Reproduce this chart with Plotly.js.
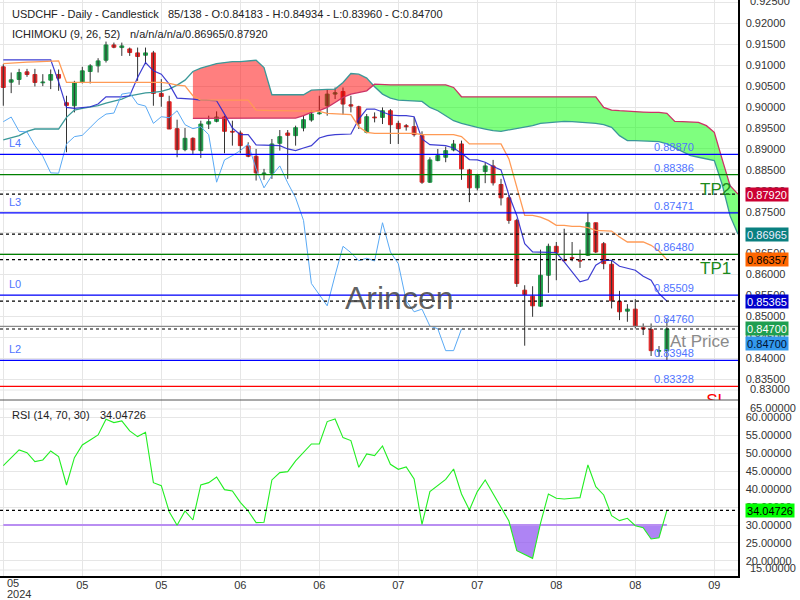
<!DOCTYPE html>
<html><head><meta charset="utf-8">
<script src="https://cdn.plot.ly/plotly-3.0.1.min.js"></script>
<style>html,body{margin:0;padding:0;background:#fff}#chart{width:800px;height:600px}</style>
</head><body><div id="chart"></div>
<script>
const openP = [0.90960,0.90594,0.90658,0.90840,0.90777,0.90579,0.90642,0.90777,0.90102,0.90031,
0.90587,0.90848,0.90983,0.91118,0.91483,0.91420,0.91388,0.91293,0.91237,0.91293,
0.90325,0.90126,0.89483,0.88983,0.89253,0.88959,0.89594,0.89658,0.89761,0.89420,
0.89380,0.89070,0.88824,0.88404,0.88420,0.89134,0.89380,0.89317,0.89499,0.89690,
0.89840,0.90031,0.90309,0.90372,0.90055,0.90007,0.89396,0.89761,0.89753,0.89912,
0.89610,0.89555,0.89531,0.89317,0.88205,0.88721,0.88801,0.88975,0.89118,0.88499,
0.88070,0.88459,0.88594,0.88150,0.87832,0.87293,0.85626,0.85483,0.85245,0.85983,
0.86674,0.86348,0.86404,0.86340,0.86459,0.87237,0.86737,0.86245,0.85356,0.85126,
0.85174,0.84729,0.84689,0.84170,0.84183];
const highP = [0.91023,0.90825,0.90912,0.90912,0.90912,0.90785,0.90896,0.90896,0.90269,0.90626,
0.90960,0.91023,0.91166,0.91563,0.91540,0.91539,0.91420,0.91420,0.91420,0.91341,
0.90666,0.90269,0.89698,0.89499,0.89277,0.89674,0.89793,0.89896,0.89793,0.89674,
0.89436,0.89158,0.88999,0.88523,0.89237,0.89451,0.89451,0.89555,0.89793,0.89912,
0.90269,0.90428,0.90467,0.90467,0.90269,0.90031,0.89833,0.89872,0.89991,0.89952,
0.89674,0.89594,0.89753,0.89420,0.88801,0.88999,0.89055,0.89213,0.89198,0.88523,
0.88404,0.88674,0.88737,0.88285,0.87900,0.87332,0.85745,0.85721,0.86594,0.86737,
0.86777,0.87094,0.86777,0.86594,0.87475,0.87237,0.86777,0.86340,0.85610,0.85293,
0.85412,0.84832,0.84832,0.84293,0.84934];
const lowP = [0.90031,0.90332,0.90531,0.90721,0.90491,0.90499,0.90428,0.90388,0.88920,0.89872,
0.90563,0.90563,0.90825,0.91063,0.91404,0.91221,0.91221,0.90626,0.91023,0.90031,
0.90007,0.89475,0.88801,0.88944,0.88880,0.88785,0.89475,0.89634,0.88896,0.89078,
0.88896,0.88801,0.88245,0.88261,0.88285,0.88959,0.88285,0.89078,0.89420,0.89650,
0.89817,0.89793,0.90190,0.89817,0.89872,0.89475,0.89372,0.89634,0.89594,0.89118,
0.89118,0.89436,0.89293,0.88166,0.88190,0.88705,0.88682,0.88943,0.88261,0.87729,
0.88007,0.88182,0.88126,0.87650,0.87213,0.85705,0.84301,0.84991,0.85229,0.85563,
0.85864,0.86324,0.86317,0.86158,0.86444,0.86515,0.86126,0.85190,0.84912,0.84872,
0.84713,0.84555,0.84055,0.84039,0.83960];
const closeP = [0.90467,0.90650,0.90825,0.90777,0.90587,0.90594,0.90777,0.90690,0.90039,0.90587,
0.90864,0.90983,0.91102,0.91483,0.91428,0.91460,0.91301,0.91206,0.91293,0.90325,
0.90253,0.89475,0.88983,0.89253,0.88975,0.89594,0.89650,0.89761,0.89420,0.89404,
0.89078,0.88824,0.88428,0.88420,0.89118,0.89293,0.89324,0.89507,0.89698,0.89832,
0.89856,0.90309,0.90340,0.90071,0.90023,0.89610,0.89769,0.89745,0.89912,0.89578,
0.89483,0.89531,0.89340,0.88205,0.88737,0.88840,0.88959,0.89118,0.88523,0.88070,
0.88364,0.88594,0.88190,0.87832,0.87293,0.85785,0.85523,0.85253,0.85983,0.86674,
0.86523,0.86332,0.86388,0.86324,0.87237,0.86539,0.86261,0.85372,0.85110,0.85174,
0.84769,0.84705,0.84182,0.84183,0.84700];
const tenkan = [0.91126,0.91126,0.91126,0.91126,0.91126,0.91126,0.91126,0.90600,0.89991,0.89967,
0.89991,0.90007,0.90071,0.90245,0.90245,0.90245,0.90269,0.90706,0.91063,0.90864,
0.90785,0.90547,0.90213,0.90205,0.90190,0.90166,0.90166,0.90150,0.89832,0.89499,
0.89340,0.89340,0.89094,0.89094,0.89094,0.89078,0.88999,0.88959,0.89023,0.89078,
0.89261,0.89317,0.89340,0.89356,0.89356,0.89713,0.89952,0.89952,0.89872,0.89809,
0.89793,0.89793,0.89769,0.89237,0.89102,0.89094,0.89078,0.89023,0.88896,0.88745,
0.88737,0.88682,0.88579,0.88499,0.87900,0.87412,0.86737,0.86539,0.86539,0.86539,
0.86523,0.86301,0.86063,0.85824,0.85880,0.86221,0.86340,0.86340,0.86198,0.86142,
0.86102,0.85959,0.85864,0.85547,0.85365];
const kijun = [0.91039,0.91055,0.91063,0.91071,0.91079,0.91086,0.91102,0.91102,0.90587,0.90587,
0.90587,0.90587,0.90587,0.90587,0.90587,0.90587,0.90587,0.90587,0.90587,0.90587,
0.90587,0.90563,0.90523,0.90507,0.90269,0.90166,0.90166,0.90166,0.90166,0.90166,
0.90166,0.90166,0.89928,0.89912,0.89912,0.89912,0.89912,0.89912,0.89912,0.89912,
0.89896,0.89848,0.89832,0.89817,0.89817,0.89531,0.89396,0.89372,0.89372,0.89372,
0.89372,0.89372,0.89372,0.89340,0.89340,0.89340,0.89340,0.89340,0.89293,0.89118,
0.89118,0.89118,0.89118,0.89118,0.88761,0.88086,0.87412,0.87412,0.87372,0.87293,
0.87174,0.87174,0.87150,0.87150,0.87118,0.87055,0.87039,0.87039,0.86896,0.86777,
0.86777,0.86777,0.86698,0.86563,0.86357];
const senkouA = [0.89213,0.89269,0.89317,0.89420,0.89475,0.89475,0.89475,0.89475,0.89753,0.89928,
0.89967,0.89991,0.90031,0.90094,0.90150,0.90190,0.90269,0.90309,0.90340,0.90348,
0.90372,0.90428,0.90523,0.90642,0.90848,0.90928,0.90983,0.91039,0.91063,0.91086,
0.91086,0.91102,0.91118,0.90944,0.90293,0.90293,0.90293,0.90293,0.90293,0.90404,
0.90420,0.90420,0.90428,0.90587,0.90801,0.90785,0.90690,0.90483,0.90309,0.90214,
0.90166,0.90158,0.90150,0.90134,0.89991,0.89912,0.89793,0.89674,0.89610,0.89555,
0.89515,0.89475,0.89436,0.89420,0.89451,0.89499,0.89515,0.89555,0.89610,0.89626,
0.89642,0.89658,0.89650,0.89642,0.89634,0.89610,0.89579,0.89515,0.89317,0.89198,
0.89198,0.89190,0.89182,0.89174,0.89118,0.89023,0.88920,0.88840,0.88801,0.88761,
0.88721,0.88150,0.87400,0.86965];
const senkouB = [null,null,null,null,null,null,null,null,null,null,
null,null,null,null,null,null,null,null,null,null,
null,null,null,null,0.89729,0.89729,0.89729,0.89729,0.89729,0.89729,
0.89729,0.89729,0.89729,0.89729,0.89729,0.89729,0.89729,0.89737,0.89793,0.89872,
0.89912,0.89991,0.90110,0.90229,0.90309,0.90348,0.90388,0.90547,0.90531,0.90531,
0.90531,0.90531,0.90531,0.90531,0.90531,0.90531,0.90531,0.90468,0.90245,0.90245,
0.90245,0.90245,0.90245,0.90245,0.90245,0.90245,0.90245,0.90245,0.90245,0.90245,
0.90245,0.90245,0.90245,0.90245,0.90245,0.90245,0.89991,0.89928,0.89912,0.89896,
0.89888,0.89880,0.89872,0.89872,0.89848,0.89658,0.89650,0.89642,0.89634,0.89555,
0.89396,0.88750,0.88120,0.87920];
const rsi = [46.53,48.76,50.89,50.15,47.65,48.11,50.62,49.04,41.14,48.76,
52.29,53.68,55.07,59.44,58.51,58.98,56.19,54.61,55.82,41.79,
40.96,33.71,29.95,33.90,31.39,41.14,41.79,43.37,39.84,39.47,
36.31,33.90,30.65,30.74,42.54,44.58,44.86,47.83,50.25,52.57,
52.57,58.79,59.53,54.33,53.50,46.06,49.78,49.32,52.01,46.90,
45.51,46.16,42.81,30.18,39.29,41.14,42.72,45.60,38.64,34.18,
39.29,42.54,38.82,34.83,31.11,22.85,21.82,20.71,30.46,38.64,
37.43,37.24,37.43,37.61,46.72,40.68,38.36,32.60,31.21,31.86,
29.81,29.25,26.10,26.47,34.04726];
const levelValues = [0.88870,0.88386,0.87471,0.86480,0.85509,0.84760,0.83948,0.83328];
const levelNames = ['L4','','L3','','L0','','L2',''];
const rsiOversold = 30;
const dateTickBars = [0,10,20,30,40,50,60,70,80,90];
const dateTickText = ['05','05','05','06','06','07','07','08','08','09'];
const yearText = '2024';

const PW = 738, PH = 576;
const px = x => x / PW, py = y => 1 - y / PH;
const F = 'Liberation Sans, Arial, sans-serif';
const idx = closeP.map((_, i) => i);
const cloudIdx = senkouA.map((_, i) => i);

function crossAug(xs, a, b) {
  const X = [], A = [], B = [];
  for (let i = 0; i < xs.length; i++) {
    X.push(xs[i]); A.push(a[i]); B.push(b[i]);
    if (i < xs.length - 1) {
      const d0 = a[i] - b[i], d1 = a[i + 1] - b[i + 1];
      if (d0 * d1 < 0) {
        const t = d0 / (d0 - d1);
        const v = a[i] + t * (a[i + 1] - a[i]);
        X.push(xs[i] + t * (xs[i + 1] - xs[i])); A.push(v); B.push(v);
      }
    }
  }
  return {X, A, B};
}

const traces = [];
const wx = [], wy = [];
idx.forEach(i => { wx.push(i, i, null); wy.push(lowP[i], highP[i], null); });
traces.push({type:'scatter', mode:'lines', x:wx, y:wy, line:{color:'#333', width:1}, hoverinfo:'skip', xaxis:'x', yaxis:'y'});
traces.push({type:'candlestick', x:idx, open:openP, close:closeP,
  high: idx.map(i => Math.max(openP[i], closeP[i])), low: idx.map(i => Math.min(openP[i], closeP[i])),
  increasing:{fillcolor:'#1f9e4b', line:{color:'#1f9e4b', width:1}},
  decreasing:{fillcolor:'#e02626', line:{color:'#e02626', width:1}},
  whiskerwidth:0, hoverinfo:'skip', xaxis:'x', yaxis:'y'});
const cStart = senkouB.findIndex(v => v !== null);
const cx = cloudIdx.slice(cStart), ca = senkouA.slice(cStart), cb = senkouB.slice(cStart);
const aug = crossAug(cx, ca, cb);
const upper = aug.A.map((v, k) => Math.max(v, aug.B[k]));
traces.push({type:'scatter', mode:'lines', x:aug.X, y:aug.B, line:{width:0}, hoverinfo:'skip'});
traces.push({type:'scatter', mode:'lines', x:aug.X, y:upper, line:{width:0}, fill:'tonexty', fillcolor:'rgba(255,0,0,0.5)', hoverinfo:'skip'});
traces.push({type:'scatter', mode:'lines', x:aug.X, y:aug.A, line:{width:0}, hoverinfo:'skip'});
traces.push({type:'scatter', mode:'lines', x:aug.X, y:upper, line:{width:0}, fill:'tonexty', fillcolor:'rgba(0,255,0,0.5)', hoverinfo:'skip'});
traces.push({type:'scatter', mode:'lines', x:cloudIdx, y:senkouA, line:{color:'#3a9898', width:1.3}, hoverinfo:'skip'});
traces.push({type:'scatter', mode:'lines', x:cloudIdx, y:senkouB, line:{color:'#cc3366', width:1.3}, hoverinfo:'skip'});
traces.push({type:'scatter', mode:'lines', x:idx, y:tenkan, line:{color:'rgba(40,40,205,0.9)', width:1.2}, hoverinfo:'skip'});
traces.push({type:'scatter', mode:'lines', x:idx, y:kijun, line:{color:'#ff9a55', width:1.3}, hoverinfo:'skip'});
const chikou = closeP.slice(26);
traces.push({type:'scatter', mode:'lines', x:chikou.map((_, i) => i), y:chikou, line:{color:'#5aaaf5', width:1}, hoverinfo:'skip'});
traces.push({type:'scatter', mode:'text', x:[90.3], y:[0.82965], text:['SL'], textfont:{family:F, size:17, color:'#ff0000'}, cliponaxis:true, hoverinfo:'skip'});

const thr = idx.map(() => rsiOversold);
const raug = crossAug(idx, rsi, thr);
traces.push({type:'scatter', mode:'lines', x:raug.X, y:raug.A.map(v => Math.min(v, rsiOversold)), line:{width:0}, hoverinfo:'skip', xaxis:'x', yaxis:'y2'});
traces.push({type:'scatter', mode:'lines', x:raug.X, y:raug.X.map(() => rsiOversold), line:{width:0}, fill:'tonexty', fillcolor:'rgba(140,80,240,0.7)', hoverinfo:'skip', xaxis:'x', yaxis:'y2'});
traces.push({type:'scatter', mode:'lines', x:[idx[0], idx[idx.length-1]], y:[rsiOversold, rsiOversold], line:{color:'#b98ef2', width:2.2}, hoverinfo:'skip', xaxis:'x', yaxis:'y2'});
traces.push({type:'scatter', mode:'lines', x:idx, y:rsi, line:{color:'#22ee22', width:1.1}, hoverinfo:'skip', xaxis:'x', yaxis:'y2'});

const shapes = [];
const levelColors = ['#0000ff','#008000','#0000ff','#008000','#0000ff','#8a8a8a','#0000ff','#ff0000'];
levelValues.forEach((v, k) => shapes.push({type:'line', xref:'x domain', x0:0, x1:1, yref:'y', y0:v, y1:v, line:{color:levelColors[k], width:1.2}}));
const dashedVals = [senkouB[senkouB.length-1], senkouA[senkouA.length-1], kijun[kijun.length-1], tenkan[tenkan.length-1], closeP[closeP.length-1]];
dashedVals.forEach(v => shapes.push({type:'line', xref:'x domain', x0:0, x1:1, yref:'y', y0:v, y1:v, line:{color:'#000', width:1.2, dash:'3px,3px'}}));
shapes.push({type:'line', xref:'x domain', x0:0, x1:1, yref:'y2', y0:rsi[rsi.length-1], y1:rsi[rsi.length-1], line:{color:'#000', width:1.2, dash:'3px,3px'}});
shapes.push({type:'line', xref:'paper', x0:0, x1:1, yref:'paper', y0:py(400), y1:py(400), line:{color:'#555', width:1}});
[390, 409, 570].forEach(y => shapes.push({type:'line', layer:'below', xref:'paper', x0:0, x1:1, yref:'paper', y0:py(y), y1:py(y), line:{color:'#e6e6e6', width:1}}));

const ann = [];
const txt = (t, x, y, o) => ann.push(Object.assign({text:t, xref:'paper', yref:'paper', x:px(x), y:py(y), xanchor:'left', yanchor:'middle', showarrow:false, font:{family:F, size:11, color:'#222'}}, o || {}));
txt('USDCHF - Daily - Candlestick', 10, 14);
const n = closeP.length;
txt(`${n}/138 - O:${openP[n-1].toFixed(5)} - H:${highP[n-1].toFixed(5)} - L:${lowP[n-1].toFixed(5)} - C:${closeP[n-1].toFixed(5)}`, 165.7, 14);
txt('ICHIMOKU (9, 26, 52)', 10, 34);
txt(`n/a/n/a/n/a/${senkouA[senkouA.length-1].toFixed(5)}/${senkouB[senkouB.length-1].toFixed(5)}`, 128.3, 34);
txt('RSI (14, 70, 30)', 10, 415);
txt(rsi[n-1].toFixed(5), 97.7, 415);
levelValues.forEach((v, k) => {
  ann.push({text:v.toFixed(5), xref:'paper', x:px(652), xanchor:'left', yref:'y', y:v, yshift:7, yanchor:'middle', showarrow:false, font:{family:F, size:11, color:'#4f74ff'}});
  if (levelNames[k]) ann.push({text:levelNames[k], xref:'paper', x:px(7), xanchor:'left', yref:'y', y:v, yshift:11, yanchor:'middle', showarrow:false, font:{family:F, size:11, color:'#4f74ff'}});
});
txt('TP2', 698, 189, {font:{family:F, size:17, color:'#1c8a1c'}});
txt('TP1', 698, 268, {font:{family:F, size:17, color:'#1c8a1c'}});
txt('At Price', 668, 341, {font:{family:F, size:17, color:'#8a8a8a'}});
txt('Arincen', 400, 298, {xanchor:'center', font:{family:F, size:32, color:'rgba(70,70,70,0.85)'}});
txt('0.92500', 748, 1, {font:{family:F, size:11, color:'#333'}, x:1, xshift:10});
txt('0.83000', 748, 389, {font:{family:F, size:11, color:'#333'}, x:1, xshift:10});
txt('65.00000', 748, 408, {font:{family:F, size:11, color:'#333'}, x:1, xshift:10});
txt('15.00000', 748, 568, {font:{family:F, size:11, color:'#333'}, x:1, xshift:10});
txt(dateTickText[0], 5, 583, {font:{family:F, size:11, color:'#333'}});
txt(yearText, 5, 593.5, {font:{family:F, size:11, color:'#333'}});
const tag = (v, ax, bg, fg, yv, w) => ann.push({text:v.toFixed(5), xref:'paper', x:1, xshift:7, xanchor:'left', yref:ax, y:(yv === undefined ? v : yv), yanchor:'middle', showarrow:false, bgcolor:bg, borderpad:0, width:(w || 42), height:13, align:'center', font:{family:F, size:11, color:fg}});
tag(senkouB[senkouB.length-1], 'y', '#cc0033', '#ffffff');
tag(senkouA[senkouA.length-1], 'y', '#0a8080', '#eef');
tag(kijun[n-1], 'y', '#ff6600', '#000');
tag(tenkan[n-1], 'y', '#0000cc', '#fff');
tag(closeP[n-1], 'y', '#1e9e50', '#fff');
tag(chikou[chikou.length-1], 'y', '#3399ee', '#001133', 0.84342);
tag(rsi[n-1], 'y2', '#00ff00', '#000', undefined, 48);

const layout = {
  width:800, height:600, margin:{l:0, r:62, t:0, b:24},
  paper_bgcolor:'#fff', plot_bgcolor:'#fff', showlegend:false,
  font:{family:F, size:11, color:'#333'},
  xaxis:{range:[-0.418, 93.0], tickmode:'array', tickvals:dateTickBars, ticktext:dateTickBars.map((b, k) => k === 0 ? '' : dateTickText[k]),
    showgrid:true, gridcolor:'#e6e6e6', zeroline:false, showline:true, linecolor:'#000', linewidth:1.5, ticks:'', ticklabelstandoff:-2, anchor:'y2', rangeslider:{visible:false}, fixedrange:true},
  yaxis:{domain:[py(400), 1], range:[0.83004, 0.92556], side:'right', tick0:0.83, dtick:0.005, tickformat:'.5f',
    gridcolor:'#e6e6e6', zeroline:false, showline:true, linecolor:'#000', linewidth:1.5, anchor:'x', ticks:'', ticklabelstandoff:4, fixedrange:true},
  yaxis2:{domain:[0, py(400)], range:[15.8, 64.8], side:'right', tickmode:'array', tickvals:[20,25,30,35,40,45,50,55,60], tickformat:'.5f',
    gridcolor:'#e6e6e6', zeroline:false, showline:true, linecolor:'#000', linewidth:1.5, anchor:'x', ticks:'', ticklabelstandoff:4, fixedrange:true},
  shapes:shapes, annotations:ann
};
Plotly.newPlot('chart', traces, layout, {staticPlot:true, displayModeBar:false});
</script></body></html>
